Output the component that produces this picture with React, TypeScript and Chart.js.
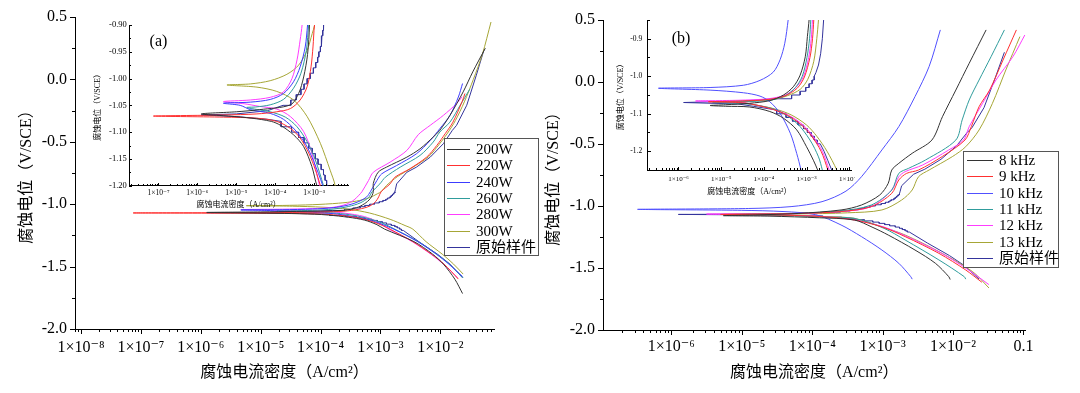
import React, { useEffect, useRef } from "react";
import { Chart, registerables } from "chart.js";

Chart.register(...registerables);

const SERIF = "'Liberation Serif', 'DejaVu Serif', 'Noto Sans CJK SC', serif";

// ===================== texts =====================
const xAxisTitle = "腐蚀电流密度（A/cm²）";
const yAxisTitle = "腐蚀电位（V/SCE）";
const powerLabels = ["200W", "220W", "240W", "260W", "280W", "300W", "原始样件"];
const freqLabels = ["8 kHz", "9 kHz", "10 kHz", "11 kHz", "12 kHz", "13 kHz", "原始样件"];

// ===================== tick values =====================
const mainAXTicks = [1e-8, 1e-7, 1e-6, 1e-5, 1e-4, 1e-3, 1e-2];
const mainBXTicks = [1e-6, 1e-5, 1e-4, 1e-3, 1e-2, 1e-1];
const mainYTicks = [0.5, 0.0, -0.5, -1.0, -1.5, -2.0];
const insetAXTicks = [1e-7, 1e-6, 1e-5, 1e-4, 1e-3];
const insetAYTicks = [-0.9, -0.95, -1.0, -1.05, -1.1, -1.15, -1.2];
const insetBXTicks = [1e-6, 1e-5, 1e-4, 1e-3, 1e-2];
const insetBYTicks = [-0.9, -1.0, -1.1, -1.2];

// ===================== data =====================
// E = corrosion potential (V/SCE); logI = log10 of current density (A/cm²)
// ---- panel (a): main plot and inset
const p200E = [0.25, 0.06, -0.10, -0.288, -0.408, -0.462, -0.556, -0.623, -0.703, -0.744, -0.834, -0.90, -0.955, -0.997, -1.028, -1.049, -1.058, -1.062, -1.066, -1.070, -1.074, -1.080, -1.087, -1.105, -1.127, -1.164, -1.20, -1.30, -1.40, -1.48, -1.60, -1.716];
const p200LogI = [-1.25, -1.46, -1.62, -1.84, -2.01, -2.12, -2.34, -2.56, -2.90, -3.04, -3.12, -3.12, -3.17, -3.27, -3.40, -3.61, -4.40, -5.00, -5.90, -5.20, -4.60, -4.10, -3.87, -3.53, -3.27, -3.06, -2.93, -2.44, -2.13, -1.95, -1.76, -1.63];

const p220E = [-0.113, -0.181, -0.342, -0.435, -0.529, -0.623, -0.716, -0.784, -0.837, -0.90, -0.941, -0.978, -1.015, -1.040, -1.056, -1.062, -1.066, -1.068, -1.070, -1.072, -1.074, -1.080, -1.093, -1.111, -1.139, -1.170, -1.20, -1.30, -1.40, -1.48, -1.60];
const p220LogI = [-1.59, -1.64, -1.79, -1.92, -2.06, -2.23, -2.51, -2.76, -2.84, -2.99, -3.03, -3.08, -3.18, -3.36, -3.61, -3.96, -4.47, -5.33, -7.13, -5.33, -4.47, -3.96, -3.61, -3.36, -3.14, -2.97, -2.84, -2.46, -2.15, -1.94, -1.70];

const p240E = [-0.033, -0.141, -0.288, -0.395, -0.489, -0.596, -0.690, -0.757, -0.810, -0.90, -0.941, -0.978, -1.006, -1.028, -1.039, -1.044, -1.046, -1.050, -1.058, -1.065, -1.076, -1.096, -1.121, -1.155, -1.20, -1.30, -1.40, -1.48, -1.58];
const p240LogI = [-1.63, -1.70, -1.84, -2.01, -2.17, -2.40, -2.73, -2.98, -3.06, -3.17, -3.23, -3.36, -3.53, -3.79, -4.13, -4.64, -5.33, -4.90, -4.64, -4.13, -3.79, -3.49, -3.23, -3.01, -2.78, -2.38, -2.07, -1.86, -1.63];

const p260E = [-0.079, -0.207, -0.342, -0.422, -0.502, -0.609, -0.703, -0.784, -0.837, -0.90, -0.947, -0.990, -1.018, -1.039, -1.049, -1.053, -1.054, -1.058, -1.062, -1.072, -1.090, -1.118, -1.152, -1.20, -1.30, -1.40, -1.48, -1.59];
const p260LogI = [-1.51, -1.67, -1.84, -2.01, -2.12, -2.34, -2.67, -2.92, -3.01, -3.14, -3.20, -3.34, -3.53, -3.79, -4.13, -4.50, -4.73, -4.45, -4.13, -3.74, -3.44, -3.18, -2.97, -2.76, -2.37, -2.06, -1.85, -1.62];

const p280E = [-0.14, -0.194, -0.288, -0.368, -0.443, -0.569, -0.663, -0.744, -0.810, -0.90, -0.928, -0.965, -1.000, -1.025, -1.035, -1.040, -1.043, -1.047, -1.052, -1.057, -1.071, -1.099, -1.139, -1.20, -1.30, -1.40, -1.48, -1.59];
const p280LogI = [-1.64, -1.73, -1.95, -2.17, -2.37, -2.56, -2.84, -3.12, -3.20, -3.31, -3.36, -3.44, -3.57, -3.79, -4.13, -4.64, -5.33, -4.80, -4.40, -3.96, -3.61, -3.27, -3.06, -2.86, -2.47, -2.16, -1.95, -1.71];

const p300E = [0.46, 0.20, 0.0, -0.18, -0.33, -0.43, -0.52, -0.62, -0.71, -0.78, -0.85, -0.90, -0.916, -0.947, -0.975, -0.992, -1.004, -1.010, -1.012, -1.016, -1.024, -1.040, -1.071, -1.121, -1.171, -1.20, -1.30, -1.40, -1.48, -1.56];
const p300LogI = [-1.155, -1.30, -1.45, -1.60, -1.75, -1.88, -2.02, -2.20, -2.48, -2.72, -2.90, -2.99, -3.05, -3.18, -3.40, -3.70, -4.13, -4.64, -5.24, -4.47, -3.96, -3.53, -3.18, -2.84, -2.59, -2.46, -2.24, -1.97, -1.78, -1.62];

// 原始样件 (shared by both main plots and inset (a)), stepped near Ecorr
const origE = [0.24, 0.034, -0.207, -0.368, -0.408, -0.515, -0.623, -0.703, -0.744, -0.837, -0.88,
  -0.90, -0.91, -0.91, -0.92, -0.92, -0.93, -0.93, -0.94, -0.94, -0.95, -0.95, -0.96, -0.96, -0.97, -0.97, -0.98, -0.98, -0.99, -0.99, -1.00, -1.00, -1.01, -1.01, -1.02, -1.02, -1.03, -1.03, -1.04, -1.04, -1.05, -1.05,
  -1.060, -1.066, -1.068, -1.071, -1.076,
  -1.08, -1.09, -1.09, -1.10, -1.10, -1.11, -1.11, -1.12, -1.12, -1.13, -1.13, -1.14, -1.14, -1.15, -1.15, -1.16, -1.16, -1.17, -1.17, -1.18, -1.18, -1.19, -1.19, -1.20, -1.20, -1.21, -1.21,
  -1.30, -1.40, -1.48, -1.59];
const origLogI = [-1.27, -1.40, -1.56, -1.73, -1.80, -1.95, -2.17, -2.40, -2.56, -2.73, -2.75,
  -2.76, -2.76, -2.78, -2.78, -2.80, -2.80, -2.82, -2.82, -2.84, -2.84, -2.88, -2.88, -2.91, -2.91, -2.96, -2.96, -3.02, -3.02, -3.10, -3.10, -3.18, -3.18, -3.26, -3.26, -3.34, -3.34, -3.46, -3.46, -3.60, -3.60, -3.80,
  -4.20, -5.00, -5.90, -5.00, -4.20,
  -3.85, -3.85, -3.58, -3.58, -3.40, -3.40, -3.26, -3.26, -3.14, -3.14, -3.05, -3.05, -2.97, -2.97, -2.90, -2.90, -2.82, -2.82, -2.76, -2.76, -2.72, -2.72, -2.68, -2.68, -2.65, -2.65, -2.62,
  -2.36, -2.05, -1.84, -1.63];

// ---- panel (b): main plot
const f8E = [0.42, 0.151, -0.065, -0.28, -0.468, -0.575, -0.656, -0.71, -0.817, -0.911, -0.992, -1.032, -1.060, -1.072, -1.078, -1.082, -1.095, -1.113, -1.17, -1.234, -1.355, -1.462, -1.57, -1.593];
const f8LogI = [-1.53, -1.77, -1.96, -2.15, -2.30, -2.58, -2.77, -2.87, -2.92, -3.04, -3.30, -3.59, -4.20, -4.80, -5.26, -4.60, -3.90, -3.40, -3.15, -2.92, -2.54, -2.25, -2.06, -2.04];

const f9E = [0.42, 0.177, -0.065, -0.199, -0.36, -0.468, -0.60, -0.71, -0.737, -0.79, -0.898, -1.005, -1.045, -1.060, -1.068, -1.074, -1.088, -1.113, -1.17, -1.247, -1.382, -1.516, -1.615];
const f9LogI = [-1.10, -1.29, -1.48, -1.63, -1.74, -1.83, -2.15, -2.49, -2.66, -2.77, -2.87, -3.16, -3.60, -4.20, -5.30, -4.40, -3.80, -3.40, -3.00, -2.68, -2.20, -1.82, -1.59];

const f10E = [0.42, 0.124, -0.118, -0.36, -0.548, -0.764, -0.88, -0.965, -1.005, -1.020, -1.027, -1.035, -1.045, -1.070, -1.153, -1.247, -1.355, -1.462, -1.57, -1.59];
const f10LogI = [-2.18, -2.34, -2.54, -2.77, -3.01, -3.30, -3.52, -3.86, -4.30, -4.90, -6.48, -5.00, -4.40, -3.95, -3.59, -3.30, -3.01, -2.77, -2.60, -2.58];

const f11E = [0.42, 0.204, 0.016, -0.145, -0.306, -0.468, -0.629, -0.696, -0.737, -0.871, -0.992, -1.040, -1.060, -1.070, -1.076, -1.090, -1.100, -1.18, -1.274, -1.435, -1.57, -1.59];
const f11LogI = [-1.27, -1.46, -1.63, -1.77, -1.87, -1.96, -2.39, -2.63, -2.77, -2.87, -3.16, -3.60, -4.30, -5.20, -4.40, -3.80, -3.40, -2.98, -2.68, -2.20, -1.84, -1.82];

const f12E = [0.379, 0.204, 0.016, -0.172, -0.36, -0.468, -0.548, -0.669, -0.723, -0.764, -0.871, -1.005, -1.045, -1.060, -1.065, -1.072, -1.088, -1.113, -1.17, -1.247, -1.382, -1.516, -1.634];
const f12LogI = [-0.98, -1.15, -1.39, -1.58, -1.77, -1.85, -2.06, -2.43, -2.68, -2.77, -2.87, -3.16, -3.60, -4.30, -5.50, -4.40, -3.78, -3.38, -2.98, -2.65, -2.16, -1.78, -1.49];

const f13E = [0.366, 0.097, -0.172, -0.387, -0.522, -0.602, -0.71, -0.764, -0.871, -0.952, -1.032, -1.055, -1.064, -1.068, -1.074, -1.087, -1.100, -1.17, -1.234, -1.368, -1.53, -1.661];
const f13LogI = [-1.05, -1.25, -1.44, -1.63, -1.82, -2.01, -2.34, -2.49, -2.58, -2.73, -3.01, -3.50, -4.20, -5.00, -4.30, -3.75, -3.40, -3.00, -2.68, -2.20, -1.72, -1.49];

// ---- panel (b): inset
const if8E = [-0.83, -0.849, -0.894, -0.948, -0.997, -1.028, -1.050, -1.065, -1.072, -1.076, -1.078, -1.080, -1.082, -1.094, -1.112, -1.143, -1.188, -1.224, -1.25, -1.27];
const if8LogI = [-2.93, -2.94, -2.98, -3.03, -3.15, -3.31, -3.54, -3.86, -4.33, -4.90, -5.26, -4.90, -4.33, -3.86, -3.54, -3.23, -3.00, -2.84, -2.74, -2.68];

const if9E = [-0.83, -0.849, -0.90, -0.95, -1.002, -1.032, -1.052, -1.062, -1.066, -1.068, -1.070, -1.074, -1.088, -1.104, -1.13, -1.16, -1.20, -1.25, -1.27];
const if9LogI = [-2.82, -2.83, -2.86, -2.92, -3.05, -3.22, -3.50, -3.90, -4.50, -5.30, -4.60, -4.30, -3.80, -3.45, -3.12, -2.88, -2.66, -2.50, -2.45];

const if10E = [-0.83, -0.849, -0.912, -0.956, -0.989, -1.011, -1.024, -1.030, -1.032, -1.037, -1.044, -1.053, -1.068, -1.099, -1.152, -1.206, -1.25, -1.27];
const if10LogI = [-3.42, -3.43, -3.51, -3.62, -3.78, -4.09, -4.48, -5.26, -6.47, -5.26, -4.48, -4.09, -3.86, -3.62, -3.38, -3.23, -3.13, -3.10];

const if11E = [-0.83, -0.849, -0.90, -0.95, -1.000, -1.030, -1.052, -1.064, -1.068, -1.070, -1.072, -1.075, -1.09, -1.125, -1.170, -1.215, -1.25, -1.27];
const if11LogI = [-2.89, -2.90, -2.93, -2.99, -3.10, -3.26, -3.50, -3.86, -4.50, -5.20, -4.60, -4.30, -3.70, -3.23, -2.92, -2.72, -2.63, -2.59];

const if12E = [-0.83, -0.849, -0.90, -0.95, -1.00, -1.03, -1.05, -1.060, -1.064, -1.066, -1.069, -1.074, -1.088, -1.104, -1.13, -1.16, -1.20, -1.25, -1.27];
const if12LogI = [-2.85, -2.86, -2.89, -2.95, -3.07, -3.25, -3.50, -3.90, -4.60, -5.60, -4.60, -4.30, -3.78, -3.42, -3.08, -2.85, -2.63, -2.47, -2.42];

const if13E = [-0.83, -0.849, -0.90, -0.96, -1.008, -1.035, -1.052, -1.062, -1.066, -1.068, -1.070, -1.074, -1.087, -1.103, -1.13, -1.16, -1.20, -1.25, -1.27];
const if13LogI = [-2.71, -2.72, -2.76, -2.83, -2.97, -3.15, -3.45, -3.80, -4.40, -5.00, -4.50, -4.30, -3.75, -3.36, -3.00, -2.76, -2.52, -2.29, -2.22];

const ifOrigE = [-0.83, -0.85, -0.90, -0.94, -0.97, -0.99, -1.00, -1.01, -1.01, -1.02, -1.02, -1.03, -1.03, -1.04, -1.04, -1.05, -1.05, -1.06, -1.06, -1.066, -1.070, -1.074, -1.080, -1.09, -1.10, -1.10, -1.11, -1.11, -1.12, -1.12, -1.13, -1.13, -1.14, -1.14, -1.15, -1.15, -1.16, -1.16, -1.17, -1.17, -1.18, -1.18, -1.20, -1.225, -1.25, -1.27];
const ifOrigLogI = [-2.59, -2.60, -2.63, -2.67, -2.72, -2.78, -2.82, -2.82, -2.87, -2.87, -2.94, -2.94, -3.02, -3.02, -3.15, -3.15, -3.35, -3.35, -3.75, -4.50, -5.88, -4.60, -4.25, -3.70, -3.70, -3.48, -3.48, -3.33, -3.33, -3.20, -3.20, -3.07, -3.07, -2.98, -2.98, -2.89, -2.89, -2.82, -2.82, -2.75, -2.75, -2.68, -2.59, -2.50, -2.41, -2.36];

// ===================== styles =====================
const seriesColors = ["#333333", "#ff3030", "#3c3cff", "#2f9c9c", "#ff3cff", "#a6a636", "#34349c"];
const seriesColorsB = ["#333333", "#ff3030", "#5050ff", "#2f9c9c", "#ff3cff", "#a6a636", "#34349c"];

type Series = { E: number[]; logI: number[]; stepped?: boolean };

const powerSeries: Series[] = [
  { E: p200E, logI: p200LogI },
  { E: p220E, logI: p220LogI },
  { E: p240E, logI: p240LogI },
  { E: p260E, logI: p260LogI },
  { E: p280E, logI: p280LogI },
  { E: p300E, logI: p300LogI },
  { E: origE, logI: origLogI, stepped: true },
];
const freqSeries: Series[] = [
  { E: f8E, logI: f8LogI },
  { E: f9E, logI: f9LogI },
  { E: f10E, logI: f10LogI },
  { E: f11E, logI: f11LogI },
  { E: f12E, logI: f12LogI },
  { E: f13E, logI: f13LogI },
  { E: origE, logI: origLogI, stepped: true },
];
const freqInsetSeries: Series[] = [
  { E: if8E, logI: if8LogI },
  { E: if9E, logI: if9LogI },
  { E: if10E, logI: if10LogI },
  { E: if11E, logI: if11LogI },
  { E: if12E, logI: if12LogI },
  { E: if13E, logI: if13LogI },
  { E: ifOrigE, logI: ifOrigLogI, stepped: true },
];

// ===================== helpers =====================
const SUP: Record<string, string> = { "-": "⁻", "0": "⁰", "1": "¹", "2": "²", "3": "³", "4": "⁴", "5": "⁵", "6": "⁶", "7": "⁷", "8": "⁸", "9": "⁹" };
function sciLabel(v: number): string {
  const e = Math.round(Math.log10(v));
  if (e === -1) return "0.1";
  return "1×10" + String(e).split("").map((c) => SUP[c] || c).join("");
}
function logMinors(min: number, max: number): number[] {
  const out: number[] = [];
  for (let e = Math.floor(Math.log10(min)); e <= Math.ceil(Math.log10(max)); e++) {
    for (let k = 2; k <= 9; k++) {
      const v = k * Math.pow(10, e);
      if (v >= min && v <= max) out.push(v);
    }
  }
  return out;
}
function linMinors(min: number, max: number, step: number): number[] {
  const out: number[] = [];
  const n = Math.round((max - min) / step);
  for (let i = 0; i <= n; i++) out.push(min + i * step);
  return out;
}

function tickPlugin(c: { xMajor: number[]; xMinor: number[]; yMajor: number[]; yMinor: number[]; major: number; minor: number; inward: boolean }) {
  return {
    id: "tickMarks",
    afterDraw(chart: any) {
      const { ctx, chartArea: a } = chart;
      const xs = chart.scales.x;
      const ys = chart.scales.y;
      const sgn = c.inward ? -1 : 1;
      const yb = Math.round(a.bottom);
      const xl = Math.round(a.left);
      ctx.save();
      ctx.strokeStyle = "#000";
      ctx.lineWidth = 1;
      ctx.beginPath();
      const xTick = (v: number, len: number) => {
        const p = xs.getPixelForValue(v);
        if (p < a.left - 0.5 || p > a.right + 0.5) return;
        const px = Math.round(p) + 0.5;
        ctx.moveTo(px, yb);
        ctx.lineTo(px, yb + sgn * len);
      };
      const yTick = (v: number, len: number) => {
        const p = ys.getPixelForValue(v);
        if (p < a.top - 0.5 || p > a.bottom + 0.5) return;
        const py = Math.round(p) + 0.5;
        ctx.moveTo(xl, py);
        ctx.lineTo(xl - sgn * len, py);
      };
      c.xMinor.forEach((v) => xTick(v, c.minor));
      c.xMajor.forEach((v) => xTick(v, c.major));
      c.yMinor.forEach((v) => yTick(v, c.minor));
      c.yMajor.forEach((v) => yTick(v, c.major));
      ctx.stroke();
      ctx.restore();
    },
  };
}

function legendPlugin(c: { left: number; top: number; width: number; height: number; rowTop: number; rowGap: number; x0: number; x1: number; textX: number; size: number }) {
  return {
    id: "boxLegend",
    afterDraw(chart: any) {
      const ctx = chart.ctx;
      ctx.save();
      ctx.fillStyle = "#fff";
      ctx.fillRect(c.left, c.top, c.width, c.height);
      ctx.strokeStyle = "#555";
      ctx.lineWidth = 1;
      ctx.strokeRect(c.left + 0.5, c.top + 0.5, c.width, c.height);
      ctx.font = `${c.size}px ${SERIF}`;
      ctx.textBaseline = "middle";
      ctx.textAlign = "left";
      chart.data.datasets.forEach((ds: any, i: number) => {
        const y = Math.round(c.rowTop + i * c.rowGap) + 0.5;
        ctx.strokeStyle = ds.borderColor;
        ctx.beginPath();
        ctx.moveTo(c.x0, y);
        ctx.lineTo(c.x1, y);
        ctx.stroke();
        ctx.fillStyle = "#000";
        ctx.fillText(ds.label, c.textX, y + 0.5);
      });
      ctx.restore();
    },
  };
}

function tagPlugin(text: string, x: number, y: number, size: number) {
  return {
    id: "panelTag",
    afterDraw(chart: any) {
      const ctx = chart.ctx;
      ctx.save();
      ctx.font = `${size}px ${SERIF}`;
      ctx.fillStyle = "#000";
      ctx.textAlign = "center";
      ctx.textBaseline = "middle";
      ctx.fillText(text, x, y);
      ctx.restore();
    },
  };
}

type Spec = {
  series: Series[];
  labels: string[];
  colors: string[];
  xMin: number; xMax: number; xTicks: number[];
  yMin: number; yMax: number; yTicks: number[]; yDigits: number;
  pad: { left: number; right: number; top: number; bottom: number };
  xHeight: number; yWidth: number;
  xTickSize: number; yTickSize: number; xTickPad: number; yTickPad: number;
  titleSize: number; xTitlePad: number; yTitlePad: number;
  plugins: any[];
};

function makeConfig(s: Spec): any {
  return {
    type: "line",
    data: {
      datasets: s.series.map((ser, i) => ({
        label: s.labels[i],
        data: ser.logI.map((v, k) => ({ x: Math.pow(10, v), y: ser.E[k] })),
        borderColor: s.colors[i],
        backgroundColor: s.colors[i],
        borderWidth: 1,
        pointRadius: 0,
        fill: false,
        tension: ser.stepped ? 0 : 0.3,
      })),
    },
    options: {
      animation: false,
      responsive: false,
      devicePixelRatio: 1,
      events: [],
      layout: { padding: s.pad },
      elements: { line: { capBezierPoints: false } },
      plugins: { legend: { display: false }, tooltip: { enabled: false } },
      scales: {
        x: {
          type: "logarithmic",
          position: "bottom",
          min: s.xMin,
          max: s.xMax,
          grid: { display: false, drawTicks: false },
          border: { display: true, color: "#000", width: 1 },
          afterBuildTicks: (ax: any) => { ax.ticks = s.xTicks.map((v) => ({ value: v })); },
          afterFit: (ax: any) => { ax.height = s.xHeight; ax.paddingLeft = 0; ax.paddingRight = 0; },
          ticks: {
            autoSkip: false, maxRotation: 0, minRotation: 0, padding: s.xTickPad, color: "#000",
            font: { family: SERIF, size: s.xTickSize },
            callback: (v: any) => sciLabel(Number(v)),
          },
          title: { display: true, text: xAxisTitle, color: "#000", font: { family: SERIF, size: s.titleSize }, padding: { top: 0, bottom: s.xTitlePad } },
        },
        y: {
          type: "linear",
          position: "left",
          min: s.yMin,
          max: s.yMax,
          grid: { display: false, drawTicks: false },
          border: { display: true, color: "#000", width: 1 },
          afterBuildTicks: (ax: any) => { ax.ticks = s.yTicks.map((v) => ({ value: v })); },
          afterFit: (ax: any) => { ax.width = s.yWidth; ax.paddingTop = 0; ax.paddingBottom = 0; },
          ticks: {
            autoSkip: false, padding: s.yTickPad, color: "#000",
            font: { family: SERIF, size: s.yTickSize },
            callback: (v: any) => Number(v).toFixed(s.yDigits),
          },
          title: { display: true, text: yAxisTitle, color: "#000", font: { family: SERIF, size: s.titleSize }, padding: { top: s.yTitlePad, bottom: 0 } },
        },
      },
    },
    plugins: s.plugins,
  };
}

// ===================== chart specs =====================
const mainAX = { min: 7.94e-9, max: 0.0785 };
const mainBX = { min: 1.07e-7, max: 0.107 };
const insetAX = { min: 1.78e-8, max: 7.4e-3 };
const insetBX = { min: 1.9e-7, max: 1.1e-2 };

const mainAConfig = () =>
  makeConfig({
    series: powerSeries, labels: powerLabels, colors: seriesColors,
    xMin: mainAX.min, xMax: mainAX.max, xTicks: mainAXTicks,
    yMin: -2.0, yMax: 0.5, yTicks: mainYTicks, yDigits: 1,
    pad: { left: 0, right: 46, top: 17, bottom: 0 }, xHeight: 64, yWidth: 75,
    xTickSize: 16, yTickSize: 16, xTickPad: 9, yTickPad: 8,
    titleSize: 16, xTitlePad: 11, yTitlePad: 17,
    plugins: [
      tickPlugin({ xMajor: mainAXTicks, xMinor: logMinors(mainAX.min, mainAX.max), yMajor: mainYTicks, yMinor: linMinors(-2.0, 0.5, 0.25), major: 5, minor: 3, inward: false }),
      legendPlugin({ left: 444, top: 138, width: 94, height: 117, rowTop: 149, rowGap: 16.3, x0: 447, x1: 470, textX: 476, size: 15 }),
    ],
  });

const mainBConfig = () =>
  makeConfig({
    series: freqSeries, labels: freqLabels, colors: seriesColorsB,
    xMin: mainBX.min, xMax: mainBX.max, xTicks: mainBXTicks,
    yMin: -2.0, yMax: 0.5, yTicks: mainYTicks, yDigits: 1,
    pad: { left: 0, right: 54.5, top: 20, bottom: 0 }, xHeight: 63, yWidth: 63,
    xTickSize: 16, yTickSize: 16, xTickPad: 7.5, yTickPad: 8,
    titleSize: 16, xTitlePad: 11, yTitlePad: 4,
    plugins: [
      tickPlugin({ xMajor: mainBXTicks, xMinor: logMinors(mainBX.min, mainBX.max), yMajor: mainYTicks, yMinor: linMinors(-2.0, 0.5, 0.25), major: 5, minor: 3, inward: false }),
      legendPlugin({ left: 423, top: 151, width: 95, height: 116, rowTop: 160, rowGap: 16.3, x0: 427, x1: 453, textX: 459, size: 15 }),
    ],
  });

const insetAConfig = () =>
  makeConfig({
    series: powerSeries, labels: powerLabels, colors: seriesColors,
    xMin: insetAX.min, xMax: insetAX.max, xTicks: insetAXTicks,
    yMin: -1.2, yMax: -0.9, yTicks: insetAYTicks, yDigits: 2,
    pad: { left: 0, right: 2, top: 7, bottom: 0 }, xHeight: 27.3, yWidth: 41.3,
    xTickSize: 7.5, yTickSize: 8.5, xTickPad: 2.5, yTickPad: 2.5,
    titleSize: 8, xTitlePad: 3, yTitlePad: 5,
    plugins: [
      tickPlugin({ xMajor: insetAXTicks, xMinor: logMinors(insetAX.min, insetAX.max), yMajor: insetAYTicks, yMinor: linMinors(-1.2, -0.9, 0.025), major: 3, minor: 2, inward: true }),
      tagPlugin("(a)", 70.5, 23.5, 16),
    ],
  });

const insetBConfig = () =>
  makeConfig({
    series: freqInsetSeries, labels: freqLabels, colors: seriesColorsB,
    xMin: insetBX.min, xMax: insetBX.max, xTicks: insetBXTicks,
    yMin: -1.25, yMax: -0.85, yTicks: insetBYTicks, yDigits: 1,
    pad: { left: 0, right: 4, top: 8, bottom: 0 }, xHeight: 32, yWidth: 42.7,
    xTickSize: 7, yTickSize: 7.5, xTickPad: 4.8, yTickPad: 5.5,
    titleSize: 8, xTitlePad: 5, yTitlePad: 11,
    plugins: [
      tickPlugin({ xMajor: insetBXTicks, xMinor: logMinors(insetBX.min, insetBX.max), yMajor: insetBYTicks, yMinor: linMinors(-1.25, -0.85, 0.05), major: 3, minor: 2, inward: true }),
      tagPlugin("(b)", 76, 26.3, 16),
    ],
  });

// ===================== components =====================
function ChartCanvas(props: { left: number; top: number; width: number; height: number; make: () => any }) {
  const ref = useRef<HTMLCanvasElement | null>(null);
  useEffect(() => {
    if (!ref.current) return;
    const chart = new Chart(ref.current, props.make());
    return () => chart.destroy();
  }, []);
  return (
    <canvas
      ref={ref}
      width={props.width}
      height={props.height}
      style={{ position: "absolute", left: props.left, top: props.top, width: props.width, height: props.height }}
    />
  );
}

export default function App() {
  return (
    <div style={{ position: "fixed", left: 0, top: 0, width: 1080, height: 393, background: "#fff", overflow: "hidden" }}>
      <ChartCanvas left={0} top={0} width={540} height={393} make={mainAConfig} />
      <ChartCanvas left={540} top={0} width={540} height={393} make={mainBConfig} />
      <ChartCanvas left={88} top={18} width={262} height={195} make={insetAConfig} />
      <ChartCanvas left={605} top={12} width={250} height={190} make={insetBConfig} />
    </div>
  );
}
